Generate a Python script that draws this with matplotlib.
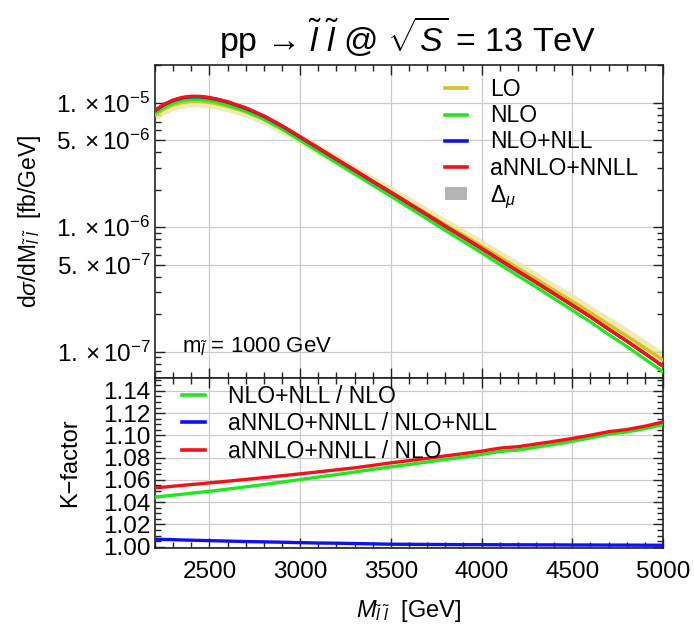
import numpy as np
import matplotlib
matplotlib.use('Agg')
import matplotlib.pyplot as plt
from matplotlib.ticker import FixedLocator, MultipleLocator, LogLocator, NullFormatter
from matplotlib.lines import Line2D
from matplotlib.patches import Patch

plt.rcParams['font.family'] = ['Liberation Sans', 'DejaVu Sans']
plt.rcParams['mathtext.fontset'] = 'custom'
plt.rcParams['mathtext.rm'] = 'Liberation Sans'
plt.rcParams['mathtext.it'] = 'Liberation Sans:italic'
plt.rcParams['mathtext.bf'] = 'Liberation Sans:bold'

# invariant mass grid [GeV]
mass = [2200, 2250, 2300, 2350, 2400, 2450, 2500, 2550, 2600, 2700,
        2800, 2900, 3000, 3100, 3200, 3300, 3400, 3500, 3600, 3700,
        3800, 3900, 4000, 4100, 4200, 4300, 4400, 4500, 4600, 4700,
        4800, 4900, 5000]

# dsigma/dM [fb/GeV]
xs_lo = [7.96e-6, 8.87e-6, 9.58e-6, 1.005e-5, 1.026e-5, 1.025e-5, 1.006e-5, 9.74e-6, 9.35e-6, 8.44e-6,
         7.38e-6, 6.20e-6, 5.12e-6, 4.21e-6, 3.46e-6, 2.85e-6, 2.33e-6, 1.92e-6, 1.570e-6, 1.286e-6,
         1.050e-6, 8.63e-7, 7.06e-7, 5.75e-7, 4.69e-7, 3.83e-7, 3.11e-7, 2.54e-7, 2.06e-7, 1.654e-7,
         1.338e-7, 1.072e-7, 8.57e-8]
xs_nlo = [8.27e-6, 9.24e-6, 9.98e-6, 1.046e-5, 1.067e-5, 1.065e-5, 1.042e-5, 1.006e-5, 9.62e-6, 8.58e-6,
          7.39e-6, 6.14e-6, 5.00e-6, 4.07e-6, 3.30e-6, 2.69e-6, 2.18e-6, 1.776e-6, 1.439e-6, 1.167e-6,
          9.43e-7, 7.68e-7, 6.23e-7, 5.03e-7, 4.08e-7, 3.31e-7, 2.67e-7, 2.16e-7, 1.736e-7, 1.378e-7,
          1.104e-7, 8.73e-8, 6.90e-8]
xs_nll = [8.64e-6, 9.66e-6, 1.044e-5, 1.095e-5, 1.118e-5, 1.117e-5, 1.094e-5, 1.057e-5, 1.012e-5, 9.04e-6,
          7.80e-6, 6.50e-6, 5.30e-6, 4.32e-6, 3.51e-6, 2.87e-6, 2.33e-6, 1.903e-6, 1.545e-6, 1.256e-6,
          1.017e-6, 8.30e-7, 6.75e-7, 5.46e-7, 4.43e-7, 3.61e-7, 2.92e-7, 2.36e-7, 1.906e-7, 1.517e-7,
          1.218e-7, 9.66e-8, 7.66e-8]
xs_nnll = [8.71e-6, 9.73e-6, 1.052e-5, 1.104e-5, 1.127e-5, 1.125e-5, 1.102e-5, 1.064e-5, 1.019e-5, 9.10e-6,
           7.85e-6, 6.53e-6, 5.33e-6, 4.34e-6, 3.53e-6, 2.88e-6, 2.34e-6, 1.91e-6, 1.55e-6, 1.26e-6,
           1.02e-6, 8.32e-7, 6.76e-7, 5.48e-7, 4.45e-7, 3.61e-7, 2.92e-7, 2.37e-7, 1.91e-7, 1.52e-7,
           1.22e-7, 9.68e-8, 7.67e-8]

# LO scale uncertainty band edges [fb/GeV]
lo_up = [8.72e-6, 9.71e-6, 1.049e-5, 1.100e-5, 1.123e-5, 1.122e-5, 1.105e-5, 1.067e-5, 1.028e-5, 9.29e-6,
         8.13e-6, 6.84e-6, 5.66e-6, 4.66e-6, 3.84e-6, 3.17e-6, 2.60e-6, 2.15e-6, 1.762e-6, 1.447e-6,
         1.185e-6, 9.76e-7, 8.01e-7, 6.54e-7, 5.35e-7, 4.38e-7, 3.57e-7, 2.93e-7, 2.38e-7, 1.916e-7,
         1.554e-7, 1.249e-7, 1.000e-7]
lo_down = [7.20e-6, 8.03e-6, 8.67e-6, 9.10e-6, 9.29e-6, 9.28e-6, 9.10e-6, 8.81e-6, 8.46e-6, 7.63e-6,
           6.67e-6, 5.60e-6, 4.63e-6, 3.80e-6, 3.12e-6, 2.57e-6, 2.10e-6, 1.73e-6, 1.415e-6, 1.159e-6,
           9.46e-7, 7.77e-7, 6.35e-7, 5.17e-7, 4.22e-7, 3.44e-7, 2.79e-7, 2.28e-7, 1.850e-7, 1.484e-7,
           1.200e-7, 9.61e-8, 7.68e-8]

# K-factors
k_nll_nlo = [1.0446, 1.0454, 1.0462, 1.0471, 1.0480, 1.0489, 1.0497, 1.0507, 1.0517, 1.0537,
             1.0558, 1.0580, 1.0603, 1.0625, 1.0647, 1.0670, 1.0694, 1.0717, 1.0738, 1.0760,
             1.0783, 1.0805, 1.0828, 1.0855, 1.0868, 1.0893, 1.0918, 1.0946, 1.0977, 1.1010,
             1.1030, 1.1060, 1.1097]
k_nnll_nll = [1.0067, 1.0065, 1.0063, 1.0060, 1.0058, 1.0056, 1.0054, 1.0052, 1.0050, 1.0046,
              1.0043, 1.0040, 1.0036, 1.0033, 1.0031, 1.0028, 1.0025, 1.0022, 1.0021, 1.0020,
              1.0019, 1.0018, 1.0018, 1.0017, 1.0017, 1.0016, 1.0016, 1.0015, 1.0015, 1.0014,
              1.0014, 1.0013, 1.0013]
k_nnll_nlo = [1.0528, 1.0535, 1.0543, 1.0550, 1.0558, 1.0565, 1.0573, 1.0580, 1.0588, 1.0604,
              1.0620, 1.0637, 1.0654, 1.0672, 1.0690, 1.0708, 1.0730, 1.0753, 1.0773, 1.0793,
              1.0815, 1.0836, 1.0858, 1.0885, 1.0898, 1.0922, 1.0946, 1.0972, 1.1001, 1.1033,
              1.1052, 1.1082, 1.1120]

y_ticks_top = [1e-7, 5e-7, 1e-6, 5e-6, 1e-5]
y_labels_top = [r'$1.\times10^{-7}$', r'$5.\times10^{-7}$', r'$1.\times10^{-6}$',
                r'$5.\times10^{-6}$', r'$1.\times10^{-5}$']
x_ticks = [2500, 3000, 3500, 4000, 4500, 5000]
k_ticks = [1.00, 1.02, 1.04, 1.06, 1.08, 1.10, 1.12, 1.14]

c_lo = '#d2c21e'
c_nlo = '#1fe81f'
c_nll = '#1010f5'
c_nnll = '#f5101a'
c_band = '#ebe7a4'
c_grid = '#cccccc'
c_frame = '#222222'

W, H = 694, 628
fig = plt.figure(figsize=(W / 100, H / 100), dpi=100)
ax1 = fig.add_axes([155 / W, 1 - 378 / H, 508 / W, 313 / H])
ax2 = fig.add_axes([155 / W, 1 - 548 / H, 508 / W, 170 / H])

lw = 2.4
ax1.fill_between(mass, lo_down, lo_up, color=c_band, lw=0, alpha=0.85, zorder=2)
ax1.plot(mass, xs_lo, color=c_lo, lw=lw, zorder=3)
ax1.plot(mass, xs_nlo, color=c_nlo, lw=lw, zorder=4)
ax1.plot(mass, xs_nll, color=c_nll, lw=lw, zorder=5)
ax1.plot(mass, xs_nnll, color=c_nnll, lw=lw, zorder=6)

ax2.plot(mass, k_nll_nlo, color=c_nlo, lw=lw, zorder=4)
ax2.plot(mass, k_nnll_nll, color=c_nll, lw=lw, zorder=4)
ax2.plot(mass, k_nnll_nlo, color=c_nnll, lw=lw, zorder=5)

tick_fs = 17.5
for ax in (ax1, ax2):
    ax.set_xlim(2200, 5000)
    ax.xaxis.set_major_locator(FixedLocator(x_ticks))
    ax.xaxis.set_minor_locator(MultipleLocator(100))
    ax.tick_params(which='both', direction='in', top=True, right=True,
                   color=c_frame, width=1.0, labelsize=tick_fs)
    ax.tick_params(which='major', length=7)
    ax.tick_params(which='minor', length=4)
    ax.grid(True, which='major', color=c_grid, lw=0.9, zorder=0)
    ax.set_axisbelow(True)
    for s in ax.spines.values():
        s.set_color(c_frame)
        s.set_linewidth(1.2)

# top panel
ax1.set_yscale('log')
ax1.set_ylim(6.15e-8, 2.01e-5)
ax1.yaxis.set_major_locator(FixedLocator(y_ticks_top))
ax1.set_yticklabels(y_labels_top)
ax1.yaxis.set_minor_locator(LogLocator(base=10, subs=np.arange(2, 10), numticks=20))
ax1.yaxis.set_minor_formatter(NullFormatter())
ax1.tick_params(axis='x', labelbottom=False)
ax1.tick_params(axis='y', pad=3)

handles1 = [Line2D([], [], color=c_lo, lw=2.6),
            Line2D([], [], color=c_nlo, lw=2.6),
            Line2D([], [], color=c_nll, lw=2.6),
            Line2D([], [], color=c_nnll, lw=2.6),
            Patch(facecolor='#b4b4b4', edgecolor='none')]
labels1 = ['LO', 'NLO', 'NLO+NLL', 'aNNLO+NNLL', r'$\Delta_\mu$']
ax1.legend(handles1, labels1, loc='upper left', bbox_to_anchor=(0.571, 0.96),
           frameon=False, fontsize=16.5, handlelength=0.95, handleheight=0.5,
           handletextpad=1.0, labelspacing=0.15, borderpad=0, borderaxespad=0)

ax1.text(0.053, 0.099, r'm$_{\tilde{l}}$ = 1000 GeV', transform=ax1.transAxes,
         fontsize=16, ha='left', va='center')

# bottom panel
ax2.set_ylim(0.9988, 1.1515)
ax2.yaxis.set_major_locator(FixedLocator(k_ticks))
ax2.set_yticklabels([f'{t:.2f}' for t in k_ticks])
ax2.yaxis.set_minor_locator(MultipleLocator(0.005))
ax2.tick_params(axis='x', pad=9)
ax2.tick_params(axis='y', pad=3)

handles2 = [Line2D([], [], color=c_nlo, lw=2.6),
            Line2D([], [], color=c_nll, lw=2.6),
            Line2D([], [], color=c_nnll, lw=2.6)]
labels2 = ['NLO+NLL / NLO', 'aNNLO+NNLL / NLO+NLL', 'aNNLO+NNLL / NLO']
ax2.legend(handles2, labels2, loc='upper left', bbox_to_anchor=(0.053, 0.96),
           frameon=False, fontsize=16.5, handlelength=1.0, handletextpad=1.0,
           labelspacing=0.2, borderpad=0, borderaxespad=0)

# titles and axis labels
fig.text(408 / W, 1 - 52 / H, 'pp \u2192 $\\tilde{l}$ $\\tilde{l}$ @ $\\sqrt{S}$ = 13 TeV',
         fontsize=24.5, ha='center', va='baseline')
fig.text(30 / W, 1 - 221 / H, r'd$\sigma$/dM$_{\tilde{l}\;\tilde{l}}$  [fb/GeV]',
         fontsize=16.5, rotation=90, ha='center', va='center')
fig.text(70 / W, 1 - 463 / H, 'K\u2212factor', fontsize=17, rotation=90,
         ha='center', va='center')
fig.text(409 / W, 1 - 611 / H, r'$M_{\tilde{l}\;\tilde{l}}$  [GeV]', fontsize=17,
         ha='center', va='center')

fig.savefig('out.png', dpi=100)
